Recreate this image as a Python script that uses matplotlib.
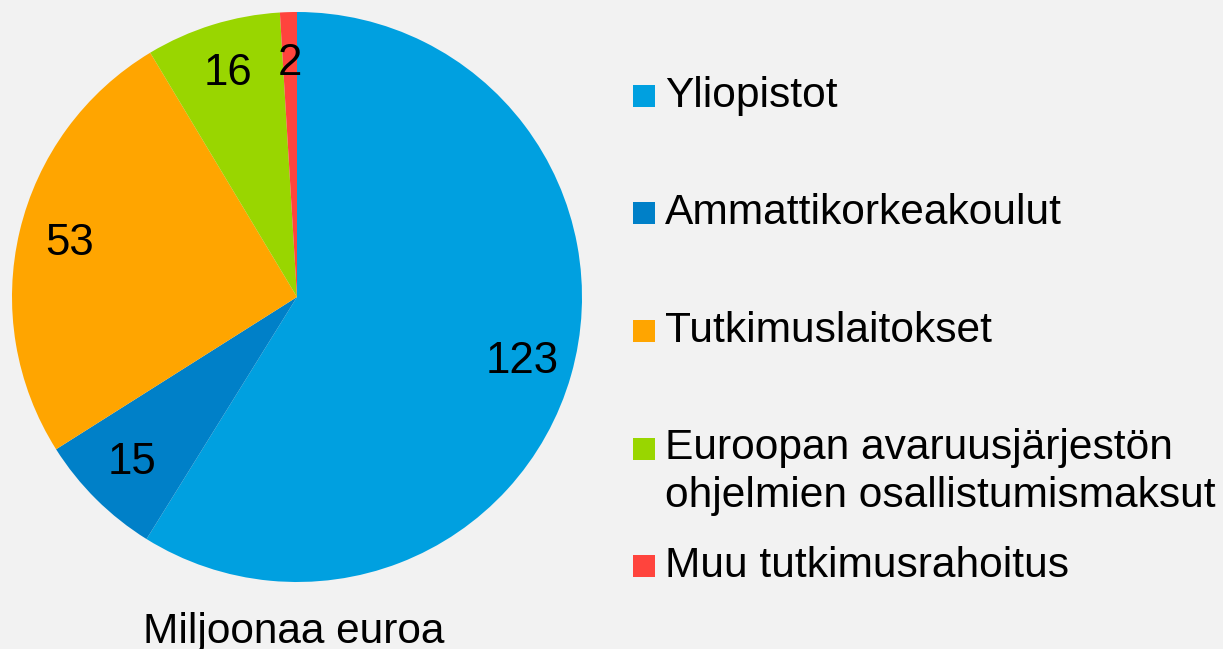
import matplotlib
matplotlib.use("Agg")
import matplotlib.pyplot as plt
from matplotlib.patches import Rectangle

plt.rcParams['font.family'] = ['Liberation Sans', 'DejaVu Sans']

categories = ["Yliopistot", "Ammattikorkeakoulut", "Tutkimuslaitokset",
              "Euroopan avaruusjärjestön\nohjelmien osallistumismaksut",
              "Muu tutkimusrahoitus"]
values = [123, 15, 53, 16, 2]
value_labels = ["123", "15", "53", "16", "2"]
colors = ["#00A0E0", "#0080C8", "#FFA500", "#99D600", "#FF443D"]
unit_label = "Miljoonaa euroa"

W, H = 1223, 649
fig = plt.figure(figsize=(W / 100, H / 100), dpi=100)
fig.patch.set_facecolor("#F2F2F2")

cx, cy, r = 297, 297, 285
ax = fig.add_axes([(cx - r) / W, (H - cy - r) / H, 2 * r / W, 2 * r / H])
ax.set_facecolor("none")
wedges, texts = ax.pie(values, labels=value_labels, colors=colors,
                       startangle=90, counterclock=False, labeldistance=0.82,
                       radius=1, wedgeprops=dict(linewidth=0),
                       textprops=dict(fontsize=31.5, color="black"))
for t in texts:
    t.set_ha("center")
    t.set_va("center")
ax.set_xlim(-1, 1)
ax.set_ylim(-1, 1)
ax.set_aspect("equal")
ax.axis("off")

fig.text(294 / W, 1 - 643 / H, unit_label, fontsize=30.5, ha="center",
         va="baseline", color="black")

# legend
base0, step = 107, 117.5
for i, (cat, col) in enumerate(zip(categories, colors)):
    yb = base0 + i * step
    fig.patches.append(Rectangle((633 / W, 1 - yb / H), 22 / W, 22 / H,
                                 transform=fig.transFigure, facecolor=col,
                                 edgecolor="none"))
    lines = cat.split("\n")
    for j, line in enumerate(lines):
        fig.text(665 / W, 1 - (yb + j * 48) / H, line, fontsize=30.6,
                 ha="left", va="baseline", color="black")

fig.savefig("out.png", dpi=100, facecolor=fig.get_facecolor())
